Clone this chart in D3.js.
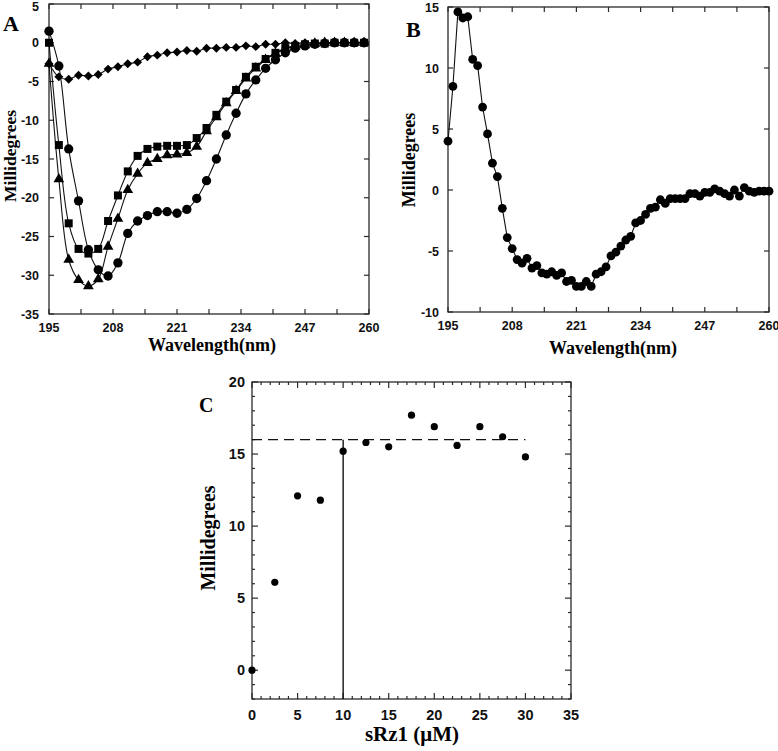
<!DOCTYPE html>
<html><head><meta charset="utf-8">
<script src="https://cdn.jsdelivr.net/npm/d3@7"></script>
<style>body{margin:0;background:#fff}svg{display:block}</style>
</head><body>
<svg id="chart" width="778" height="751"></svg>
<script>
// ---------- Panel A data ----------
const wavelengthA = [195,197,199,201,203,205,207,209,211,213,215,217,219,221,223,225,227,229,231,233,235,237,239,241,243,245,247,249,251,253,255,257,259];
const diamondA  = [-2.7,-4.4,-4.7,-4.2,-4.3,-4.1,-3.4,-3.1,-2.7,-2.5,-1.8,-1.6,-1.3,-1.2,-1.0,-1.1,-0.7,-0.7,-0.6,-0.6,-0.4,-0.5,-0.2,-0.2,0,-0.1,0,0,0,0,0,0,0];
const squareA   = [0,-13.2,-23.3,-26.6,-27.2,-26.6,-23.0,-19.7,-16.6,-14.6,-13.7,-13.4,-13.3,-13.3,-13.2,-12.3,-11.0,-9.3,-7.6,-6.1,-4.4,-3.1,-2.1,-1.3,-0.7,-0.4,-0.2,-0.1,-0.1,0,0,0,0];
const triangleA = [-2.7,-17.6,-28.0,-30.6,-31.4,-30.5,-26.3,-22.7,-19.0,-16.9,-15.5,-15.0,-14.5,-14.4,-14.2,-13.4,-11.4,-9.6,-7.8,-6.2,-4.6,-3.3,-2.2,-1.4,-0.8,-0.5,-0.3,-0.1,0,0,0,0,0];
const circleA   = [1.5,-3.0,-13.7,-20.4,-26.7,-29.3,-30.1,-28.4,-24.6,-23.0,-22.3,-21.8,-21.8,-22.0,-21.5,-20.1,-17.8,-15.0,-11.9,-9.1,-6.6,-4.8,-3.3,-2.2,-1.3,-0.7,-0.4,-0.2,-0.1,0,0,0,0];
// ---------- Panel B data ----------
const wavelengthB = [195,196,197,198,199,200,201,202,203,204,205,206,207,208,209,210,211,212,213,214,215,216,217,218,219,220,221,222,223,224,225,226,227,228,229,230,231,232,233,234,235,236,237,238,239,240,241,242,243,244,245,246,247,248,249,250,251,252,253,254,255,256,257,258,259,260];
const mdegB = [4.0,8.5,14.6,14.1,14.2,10.7,10.2,6.8,4.6,2.2,1.1,-1.5,-3.9,-4.8,-5.7,-6.0,-5.6,-6.4,-6.2,-6.8,-6.9,-6.7,-7.0,-6.8,-7.5,-7.4,-7.9,-7.9,-7.5,-7.9,-6.9,-6.7,-6.3,-5.4,-5.1,-4.6,-4.1,-3.8,-2.7,-2.5,-2.0,-1.5,-1.4,-0.8,-1.1,-0.7,-0.7,-0.7,-0.7,-0.3,-0.3,-0.5,-0.2,-0.2,0.1,-0.1,-0.3,-0.5,0,-0.5,0.2,-0.1,-0.2,-0.1,-0.1,-0.1];
// ---------- Panel C data ----------
const concC = [0,2.5,5,7.5,10,12.5,15,17.5,20,22.5,25,27.5,30];
const mdegC = [0,6.1,12.1,11.8,15.2,15.8,15.5,17.7,16.9,15.6,16.9,16.2,14.8];
const plateauC = [16];
const breakC = [10];
const plateauEndC = [30];
// ---------- tick labels ----------
const wlTicks = [195,208,221,234,247,260];
const yTicksA = [5,0,-5,-10,-15,-20,-25,-30,-35];
const yTicksB = [15,10,5,0,-5,-10];
const xTicksC = [0,5,10,15,20,25,30,35];
const yTicksC = [0,5,10,15,20];

const svg = d3.select("#chart");
const AX = "#2a2a2a";
const serif = "'Liberation Serif','Times New Roman',serif";
const sans = "'Liberation Sans',Arial,sans-serif";

function frame(g, x, y, xMinor, yMinor, tl, tlMinor){
  const [x0,x1] = x.range(), [y0,y1] = y.range();
  g.append("rect").attr("x",x0).attr("y",y1).attr("width",x1-x0).attr("height",y0-y1)
    .attr("fill","none").attr("stroke",AX).attr("stroke-width",1.3);
  xMinor.forEach(v=>{
    const len = v.major ? tl : tlMinor;
    g.append("line").attr("x1",x(v.v)).attr("x2",x(v.v)).attr("y1",y0).attr("y2",y0-len).attr("stroke",AX).attr("stroke-width",1.2);
    g.append("line").attr("x1",x(v.v)).attr("x2",x(v.v)).attr("y1",y1).attr("y2",y1+len).attr("stroke",AX).attr("stroke-width",1.2);
  });
  yMinor.forEach(v=>{
    const len = v.major ? tl : tlMinor;
    g.append("line").attr("y1",y(v.v)).attr("y2",y(v.v)).attr("x1",x0).attr("x2",x0+len).attr("stroke",AX).attr("stroke-width",1.2);
    g.append("line").attr("y1",y(v.v)).attr("y2",y(v.v)).attr("x1",x1).attr("x2",x1-len).attr("stroke",AX).attr("stroke-width",1.2);
  });
}

// ================= Panel A =================
{
  const x = d3.scaleLinear().domain([195,260]).range([49,369]);
  const y = d3.scaleLinear().domain([-35,5]).range([314,4]);
  const g = svg.append("g");
  const xt = d3.range(0,11).map(i=>({v:195+6.5*i, major:true}));
  const yt = yTicksA.map(v=>({v, major:true}));
  frame(g,x,y,xt,yt,5,5);
  g.selectAll(".xl").data(wlTicks).join("text").attr("x",d=>x(d)).attr("y",332)
    .attr("text-anchor","middle").attr("font-family",sans).attr("font-weight","bold").attr("font-size",12.5).attr("fill","#111").text(d=>d);
  g.selectAll(".yl").data(yTicksA).join("text").attr("x",39).attr("y",d=>Math.max(y(d)+4.5,11))
    .attr("text-anchor","end").attr("font-family",sans).attr("font-weight","bold").attr("font-size",12.5).attr("fill","#111").text(d=>d);
  const line = d3.line().x((d,i)=>x(wavelengthA[i])).y(d=>y(d)).curve(d3.curveCatmullRom.alpha(0.5));
  const series = [
    {vals:diamondA, sym:d3.symbolSquare, size:40, rot:45},
    {vals:squareA, sym:d3.symbolSquare, size:64, rot:0},
    {vals:triangleA, sym:d3.symbolTriangle, size:50, rot:0},
    {vals:circleA, sym:d3.symbolCircle, size:68, rot:0}
  ];
  series.forEach(s=>{
    g.append("path").attr("d",line(s.vals)).attr("fill","none").attr("stroke","#111").attr("stroke-width",1.1);
  });
  series.forEach(s=>{
    const sp = d3.symbol().type(s.sym).size(s.size);
    g.selectAll(null).data(s.vals).join("path").attr("d",sp)
      .attr("transform",(d,i)=>`translate(${x(wavelengthA[i])},${y(d)}) rotate(${s.rot})`).attr("fill","#000");
  });
  g.append("text").attr("x",3).attr("y",31).attr("font-family",serif).attr("font-weight","bold").attr("font-size",22).text("A");
  g.append("text").attr("transform","translate(16,156) rotate(-90)").attr("text-anchor","middle")
    .attr("font-family",serif).attr("font-weight","bold").attr("font-size",17.5).text("Millidegrees");
  g.append("text").attr("x",212).attr("y",351).attr("text-anchor","middle")
    .attr("font-family",serif).attr("font-weight","bold").attr("font-size",18).text("Wavelength(nm)");
}

// ================= Panel B =================
{
  const x = d3.scaleLinear().domain([195,260]).range([448,769]);
  const y = d3.scaleLinear().domain([-10,15]).range([312,7]);
  const g = svg.append("g");
  const xt = d3.range(0,11).map(i=>({v:195+6.5*i, major:true}));
  const yt = yTicksB.map(v=>({v, major:true}));
  frame(g,x,y,xt,yt,5,5);
  g.selectAll(".xl").data(wlTicks).join("text").attr("x",d=>x(d)).attr("y",330)
    .attr("text-anchor","middle").attr("font-family",sans).attr("font-weight","bold").attr("font-size",12.5).attr("fill","#111").text(d=>d);
  g.selectAll(".yl").data(yTicksB).join("text").attr("x",439).attr("y",d=>y(d)+4.5)
    .attr("text-anchor","end").attr("font-family",sans).attr("font-weight","bold").attr("font-size",12.5).attr("fill","#111").text(d=>d);
  const line = d3.line().x((d,i)=>x(wavelengthB[i])).y(d=>y(d));
  g.append("path").attr("d",line(mdegB)).attr("fill","none").attr("stroke","#111").attr("stroke-width",1.1);
  g.selectAll(null).data(mdegB).join("circle").attr("cx",(d,i)=>x(wavelengthB[i])).attr("cy",d=>y(d)).attr("r",4.4).attr("fill","#000");
  g.append("text").attr("x",406).attr("y",37).attr("font-family",serif).attr("font-weight","bold").attr("font-size",22).text("B");
  g.append("text").attr("transform","translate(415,160) rotate(-90)").attr("text-anchor","middle")
    .attr("font-family",serif).attr("font-weight","bold").attr("font-size",18).text("Millidegrees");
  g.append("text").attr("x",613).attr("y",354).attr("text-anchor","middle")
    .attr("font-family",serif).attr("font-weight","bold").attr("font-size",18).text("Wavelength(nm)");
}

// ================= Panel C =================
{
  const x = d3.scaleLinear().domain([0,35]).range([252,571]);
  const y = d3.scaleLinear().domain([-2,20]).range([699,382]);
  const g = svg.append("g");
  const xt = d3.range(0,36).map(v=>({v, major: v%5===0}));
  const yt = d3.range(-2,21).map(v=>({v, major: v%5===0}));
  frame(g,x,y,xt,yt,6,3);
  g.selectAll(".xl").data(xTicksC).join("text").attr("x",d=>x(d)).attr("y",720)
    .attr("text-anchor","middle").attr("font-family",sans).attr("font-weight","bold").attr("font-size",14.5).attr("fill","#111").text(d=>d);
  g.selectAll(".yl").data(yTicksC).join("text").attr("x",245).attr("y",d=>y(d)+5)
    .attr("text-anchor","end").attr("font-family",sans).attr("font-weight","bold").attr("font-size",14.5).attr("fill","#111").text(d=>d);
  g.append("line").attr("x1",x(0)).attr("x2",x(plateauEndC[0])).attr("y1",y(plateauC[0])).attr("y2",y(plateauC[0]))
    .attr("stroke","#111").attr("stroke-width",1.4).attr("stroke-dasharray","10,6");
  g.append("line").attr("x1",x(breakC[0])).attr("x2",x(breakC[0])).attr("y1",y(-2)).attr("y2",y(plateauC[0]))
    .attr("stroke","#111").attr("stroke-width",1.4);
  g.selectAll(null).data(mdegC).join("circle").attr("cx",(d,i)=>x(concC[i])).attr("cy",d=>y(d)).attr("r",3.6).attr("fill","#000");
  g.append("text").attr("x",199).attr("y",412).attr("font-family",serif).attr("font-weight","bold").attr("font-size",20).text("C");
  g.append("text").attr("transform","translate(215,538) rotate(-90)").attr("text-anchor","middle")
    .attr("font-family",serif).attr("font-weight","bold").attr("font-size",20).text("Millidegrees");
  g.append("text").attr("x",412).attr("y",741).attr("text-anchor","middle")
    .attr("font-family",serif).attr("font-weight","bold").attr("font-size",21).text("sRz1 (μM)");
}
</script>
</body></html>
